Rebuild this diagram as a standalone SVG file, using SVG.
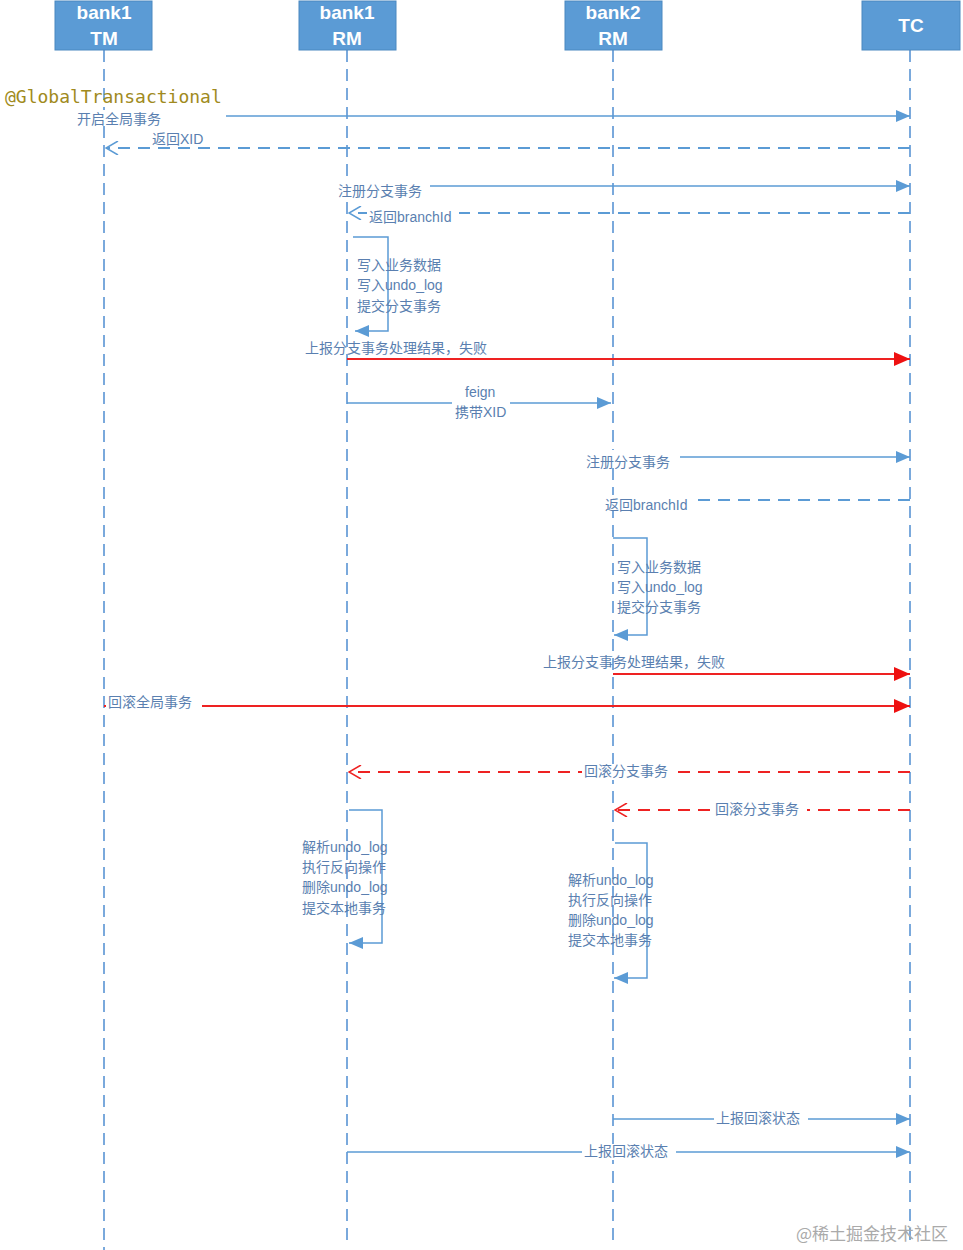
<svg xmlns="http://www.w3.org/2000/svg" width="963" height="1250" viewBox="0 0 963 1250">
<style>
.hd{fill:#5b9bd5;stroke:#4a88c0}
.ht{fill:#fff;font-family:"Liberation Sans",Arial,sans-serif;font-weight:bold;font-size:19px;text-anchor:middle}
.ll{stroke:#7aa9dc;stroke-width:2;stroke-dasharray:12,7;fill:none}
.s{stroke:#5b9bd5;stroke-width:1.5;fill:none}
.d{stroke:#5b9bd5;stroke-width:1.8;stroke-dasharray:12,8;fill:none}
.r{stroke:#ee2222;stroke-width:1.8;fill:none}
.rd{stroke:#ee2222;stroke-width:1.8;stroke-dasharray:12,8;fill:none}
.t{fill:#5a7fb0;font-family:"Liberation Sans","Noto Sans CJK SC",sans-serif;font-size:14px}
</style>
<defs>
<marker id="a" markerWidth="14" markerHeight="12" refX="14" refY="6" orient="auto" markerUnits="userSpaceOnUse"><path d="M0,0L14,6L0,12z" fill="#5b9bd5"/></marker>
<marker id="ar" markerWidth="16" markerHeight="14" refX="16" refY="7" orient="auto" markerUnits="userSpaceOnUse"><path d="M0,0L16,7L0,14z" fill="#ee1111"/></marker>
<marker id="o" markerWidth="14" markerHeight="14" refX="13" refY="7" orient="auto" markerUnits="userSpaceOnUse"><path d="M1,0L13,7L1,14" fill="none" stroke="#5b9bd5" stroke-width="1.5"/></marker>
<marker id="or" markerWidth="14" markerHeight="14" refX="13" refY="7" orient="auto" markerUnits="userSpaceOnUse"><path d="M1,0L13,7L1,14" fill="none" stroke="#ee2222" stroke-width="1.5"/></marker>
</defs>
<g id="lifelines">
<path class="ll" d="M104 50V1250M347 50V1240M613 50V1240M910 50V1240"/>
</g>
<g id="n-tm"><rect class="hd" x="55" y="1" width="97" height="49"/><text class="ht" x="104" y="19">bank1</text><text class="ht" x="104" y="45">TM</text></g>
<g id="n-rm1"><rect class="hd" x="299" y="1" width="97" height="49"/><text class="ht" x="347" y="19">bank1</text><text class="ht" x="347" y="45">RM</text></g>
<g id="n-rm2"><rect class="hd" x="565" y="1" width="97" height="49"/><text class="ht" x="613" y="19">bank2</text><text class="ht" x="613" y="45">RM</text></g>
<g id="n-tc"><rect class="hd" x="862" y="1" width="98" height="49"/><text class="ht" x="911" y="32">TC</text></g>
<g id="connectors">
<path class="s" d="M226 116H910" marker-end="url(#a)"/>
<path class="d" d="M910 148H106" marker-end="url(#o)"/>
<path class="s" d="M430 186H910" marker-end="url(#a)"/>
<path class="d" d="M910 213H349" marker-end="url(#o)"/>
<path class="s" d="M353 237H388V331H355" marker-end="url(#a)"/>
<path class="r" d="M347 359H910" marker-end="url(#ar)"/>
<path class="s" d="M347 403H611" marker-end="url(#a)"/>
<path class="s" d="M680 457H910" marker-end="url(#a)"/>
<path class="d" d="M910 500H690"/>
<path class="s" d="M613 538H647V635H614" marker-end="url(#a)"/>
<path class="r" d="M613 674H910" marker-end="url(#ar)"/>
<path class="r" d="M104 706H910" marker-end="url(#ar)"/>
<path class="rd" d="M910 772H349" marker-end="url(#or)"/>
<path class="rd" d="M910 810H615" marker-end="url(#or)"/>
<path class="s" d="M349 810H382V943H349" marker-end="url(#a)"/>
<path class="s" d="M615 843H647V978H614" marker-end="url(#a)"/>
<path class="s" d="M613 1119H910" marker-end="url(#a)"/>
<path class="s" d="M347 1152H910" marker-end="url(#a)"/>
</g>
<g id="labels">
<text x="5" y="103" font-family="'DejaVu Sans Mono',monospace" font-size="18" fill="#a08a20">@GlobalTransactional</text>
<rect x="75" y="110" width="96" height="16" fill="#fff"/><text class="t" x="77" y="124">开启全局事务</text>
<rect x="150" y="132" width="58" height="14" fill="#fff"/><text class="t" x="152" y="144">返回XID</text>
<rect x="336" y="180" width="94" height="18" fill="#fff"/><text class="t" x="338" y="196">注册分支事务</text>
<rect x="367" y="205" width="92" height="18" fill="#fff"/><text class="t" x="369" y="222">返回branchId</text>
<text class="t" x="357" y="270">写入业务数据</text>
<text class="t" x="357" y="290">写入undo_log</text>
<text class="t" x="357" y="311">提交分支事务</text>
<text class="t" x="305" y="353">上报分支事务处理结果，失败</text>
<rect x="452" y="385" width="58" height="36" fill="#fff"/>
<text class="t" x="465" y="397">feign</text><text class="t" x="455" y="417">携带XID</text>
<rect x="584" y="450" width="96" height="18" fill="#fff"/><text class="t" x="586" y="467">注册分支事务</text>
<rect x="603" y="495" width="88" height="16" fill="#fff"/><text class="t" x="605" y="510">返回branchId</text>
<text class="t" x="617" y="572">写入业务数据</text>
<text class="t" x="617" y="592">写入undo_log</text>
<text class="t" x="617" y="612">提交分支事务</text>
<text class="t" x="543" y="667">上报分支事务处理结果，失败</text>
<rect x="106" y="696" width="96" height="16" fill="#fff"/><text class="t" x="108" y="707">回滚全局事务</text>
<rect x="582" y="764" width="94" height="16" fill="#fff"/><text class="t" x="584" y="776">回滚分支事务</text>
<rect x="713" y="802" width="94" height="16" fill="#fff"/><text class="t" x="715" y="814">回滚分支事务</text>
<text class="t" x="302" y="852">解析undo_log</text>
<text class="t" x="302" y="872">执行反向操作</text>
<text class="t" x="302" y="892">删除undo_log</text>
<text class="t" x="302" y="913">提交本地事务</text>
<text class="t" x="568" y="885">解析undo_log</text>
<text class="t" x="568" y="905">执行反向操作</text>
<text class="t" x="568" y="925">删除undo_log</text>
<text class="t" x="568" y="945">提交本地事务</text>
<rect x="714" y="1111" width="94" height="16" fill="#fff"/><text class="t" x="716" y="1123">上报回滚状态</text>
<rect x="582" y="1144" width="94" height="16" fill="#fff"/><text class="t" x="584" y="1156">上报回滚状态</text>
<text x="796" y="1240" font-family="'Noto Sans CJK SC',sans-serif" font-size="17" fill="#aaa">@稀土掘金技术社区</text>
</g>
</svg>
